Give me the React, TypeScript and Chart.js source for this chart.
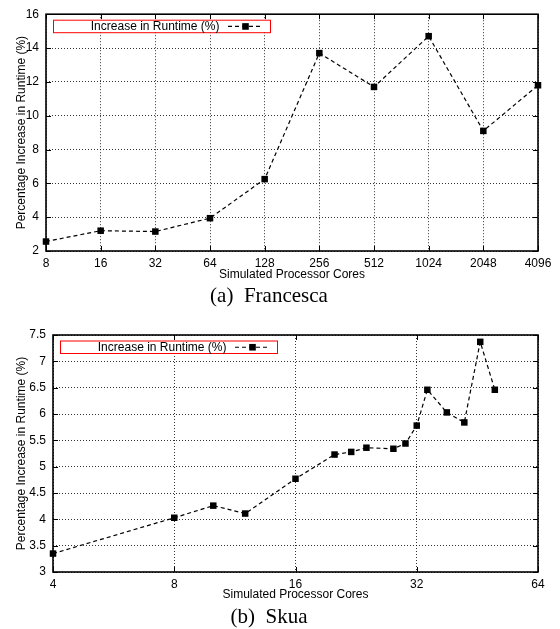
import React, { useEffect, useRef } from "react";
import { Chart, registerables } from "chart.js";

Chart.register(...registerables);

// ---- data ----
const FRANCESCA_CORES = [8, 16, 32, 64, 128, 256, 512, 1024, 2048, 4096];
const FRANCESCA_INCREASE = [2.56, 3.2, 3.15, 3.94, 6.25, 13.7, 11.7, 14.7, 9.1, 11.8];
const FRANCESCA_X_TICKS = [8, 16, 32, 64, 128, 256, 512, 1024, 2048, 4096];
const FRANCESCA_Y_RANGE = [2, 16];
const FRANCESCA_Y_STEP = 2;

const SKUA_CORES = [4, 8, 10, 12, 16, 20, 22, 24, 28, 30, 32, 34, 38, 42, 46, 50];
const SKUA_INCREASE = [3.35, 4.03, 4.26, 4.11, 4.77, 5.23, 5.28, 5.36, 5.34, 5.44, 5.78, 6.46, 6.03, 5.84, 7.37, 6.46];
const SKUA_X_TICKS = [4, 8, 16, 32, 64];
const SKUA_Y_RANGE = [3, 7.5];
const SKUA_Y_STEP = 0.5;

const LEGEND_LABEL = "Increase in Runtime (%)";
const X_TITLE = "Simulated Processor Cores";
const Y_TITLE = "Percentage Increase in Runtime (%)";
const CAPTIONS = ["(a)  Francesca", "(b)  Skua"];

const SANS = "'Liberation Sans', Arial, Helvetica, sans-serif";
const SERIF = "'Liberation Serif', 'Times New Roman', serif";
const CANVAS_W = 560;
const CANVAS_H = 284;

const framePlugin = {
  id: "gnuplotFrame",
  beforeDatasetsDraw(chart: any) {
    const { ctx, chartArea: a, scales } = chart;
    ctx.save();
    ctx.strokeStyle = "#000";
    ctx.lineWidth = 1;
    ctx.setLineDash([]);
    ctx.beginPath();
    scales.x.ticks.forEach((t: any) => {
      const px = Math.round(scales.x.getPixelForValue(t.value)) + 0.5;
      ctx.moveTo(px, a.bottom);
      ctx.lineTo(px, a.bottom - 5);
      ctx.moveTo(px, a.top);
      ctx.lineTo(px, a.top + 5);
    });
    scales.y.ticks.forEach((t: any) => {
      const py = Math.round(scales.y.getPixelForValue(t.value)) + 0.5;
      ctx.moveTo(a.left, py);
      ctx.lineTo(a.left + 5, py);
      ctx.moveTo(a.right, py);
      ctx.lineTo(a.right - 5, py);
    });
    ctx.stroke();
    ctx.lineWidth = 1.6;
    ctx.strokeRect(a.left, a.top, a.right - a.left, a.bottom - a.top);
    ctx.restore();
  },
  afterDraw(chart: any) {
    const { ctx, chartArea: a } = chart;
    const ds = chart.data.datasets[0];
    const bx = a.left + 7;
    const by = a.top + 5.5;
    const bw = 217;
    const bh = 12.5;
    ctx.save();
    ctx.fillStyle = "#fff";
    ctx.fillRect(bx, by, bw, bh);
    ctx.strokeStyle = "#ff0000";
    ctx.lineWidth = 1;
    ctx.strokeRect(bx + 0.5, by + 0.5, bw, bh);
    ctx.fillStyle = "#000";
    ctx.font = `12px ${SANS}`;
    ctx.textAlign = "right";
    ctx.textBaseline = "middle";
    ctx.fillText(ds.label, bx + 166.5, by + bh / 2 + 1);
    const cy = by + bh / 2 + 0.5;
    ctx.strokeStyle = "#000";
    ctx.lineWidth = 1.2;
    ctx.setLineDash([4, 3]);
    ctx.beginPath();
    ctx.moveTo(bx + 175, cy);
    ctx.lineTo(bx + 210, cy);
    ctx.stroke();
    ctx.setLineDash([]);
    ctx.fillRect(bx + 192.5 - 3.3, cy - 3.3, 6.6, 6.6);
    ctx.restore();
  },
};

type PanelProps = {
  cores: number[];
  values: number[];
  xTicks: number[];
  yRange: number[];
  yStep: number;
  yAxisWidth: number;
  plotTop: number;
  plotBottom: number;
  top: number;
};

function Panel(props: PanelProps) {
  const ref = useRef<HTMLCanvasElement | null>(null);
  useEffect(() => {
    if (!ref.current) return;
    const { cores, values, xTicks, yRange, yStep, yAxisWidth, plotTop, plotBottom } = props;
    const font = { family: SANS, size: 12 };
    const chart = new Chart(ref.current, {
      type: "line",
      data: {
        datasets: [
          {
            label: LEGEND_LABEL,
            data: cores.map((c, i) => ({ x: c, y: values[i] })),
            borderColor: "#000",
            borderWidth: 1.2,
            borderDash: [4, 3],
            backgroundColor: "#000",
            pointStyle: "rect",
            pointRadius: 4.6,
            pointBackgroundColor: "#000",
            pointBorderColor: "#000",
            pointBorderWidth: 0,
            tension: 0,
            fill: false,
            clip: false,
          } as any,
        ],
      },
      options: {
        responsive: false,
        animation: false,
        events: [],
        layout: { padding: { top: plotTop, right: 22, left: 0, bottom: 0 } },
        plugins: { legend: { display: false }, tooltip: { enabled: false } },
        scales: {
          x: {
            type: "logarithmic",
            min: xTicks[0],
            max: xTicks[xTicks.length - 1],
            afterBuildTicks: (s: any) => {
              s.ticks = xTicks.map((v) => ({ value: v }));
            },
            afterFit: (s: any) => {
              s.height = CANVAS_H - plotBottom;
            },
            ticks: {
              callback: (v: any) => String(v),
              font,
              color: "#000",
              padding: 5,
              autoSkip: false,
              maxRotation: 0,
            },
            grid: { color: "#000", lineWidth: 0.8, drawTicks: false },
            border: { display: false, dash: [1, 2] },
            title: {
              display: true,
              text: X_TITLE,
              font,
              color: "#000",
              padding: { top: 0, bottom: 2 },
            },
          },
          y: {
            type: "linear",
            min: yRange[0],
            max: yRange[1],
            afterFit: (s: any) => {
              s.width = yAxisWidth;
            },
            ticks: {
              stepSize: yStep,
              callback: (v: any) => String(v),
              font,
              color: "#000",
              padding: 7,
            },
            grid: { color: "#000", lineWidth: 0.8, drawTicks: false },
            border: { display: false, dash: [1, 2] },
            title: {
              display: true,
              text: Y_TITLE,
              font,
              color: "#000",
              padding: { top: 14, bottom: 0 },
            },
          },
        },
      } as any,
      plugins: [framePlugin],
    });
    return () => chart.destroy();
  }, []);
  return (
    <canvas
      ref={ref}
      width={CANVAS_W}
      height={CANVAS_H}
      style={{ position: "absolute", left: 0, top: props.top, width: CANVAS_W, height: CANVAS_H }}
    />
  );
}

const captionStyle = (top: number): React.CSSProperties => ({
  position: "absolute",
  left: 0,
  top,
  width: 538,
  textAlign: "center",
  fontFamily: SERIF,
  fontSize: 21,
  lineHeight: "24px",
  whiteSpace: "pre",
  color: "#000",
});

export default function App() {
  return (
    <div style={{ position: "absolute", left: 0, top: 0, width: 560, height: 629, background: "#fff", overflow: "hidden" }}>
      <Panel
        cores={FRANCESCA_CORES}
        values={FRANCESCA_INCREASE}
        xTicks={FRANCESCA_X_TICKS}
        yRange={FRANCESCA_Y_RANGE}
        yStep={FRANCESCA_Y_STEP}
        yAxisWidth={46}
        plotTop={14}
        plotBottom={251}
        top={0}
      />
      <div style={captionStyle(283)}>{CAPTIONS[0]}</div>
      <Panel
        cores={SKUA_CORES}
        values={SKUA_INCREASE}
        xTicks={SKUA_X_TICKS}
        yRange={SKUA_Y_RANGE}
        yStep={SKUA_Y_STEP}
        yAxisWidth={53}
        plotTop={15}
        plotBottom={252}
        top={320}
      />
      <div style={captionStyle(604)}>{CAPTIONS[1]}</div>
    </div>
  );
}
